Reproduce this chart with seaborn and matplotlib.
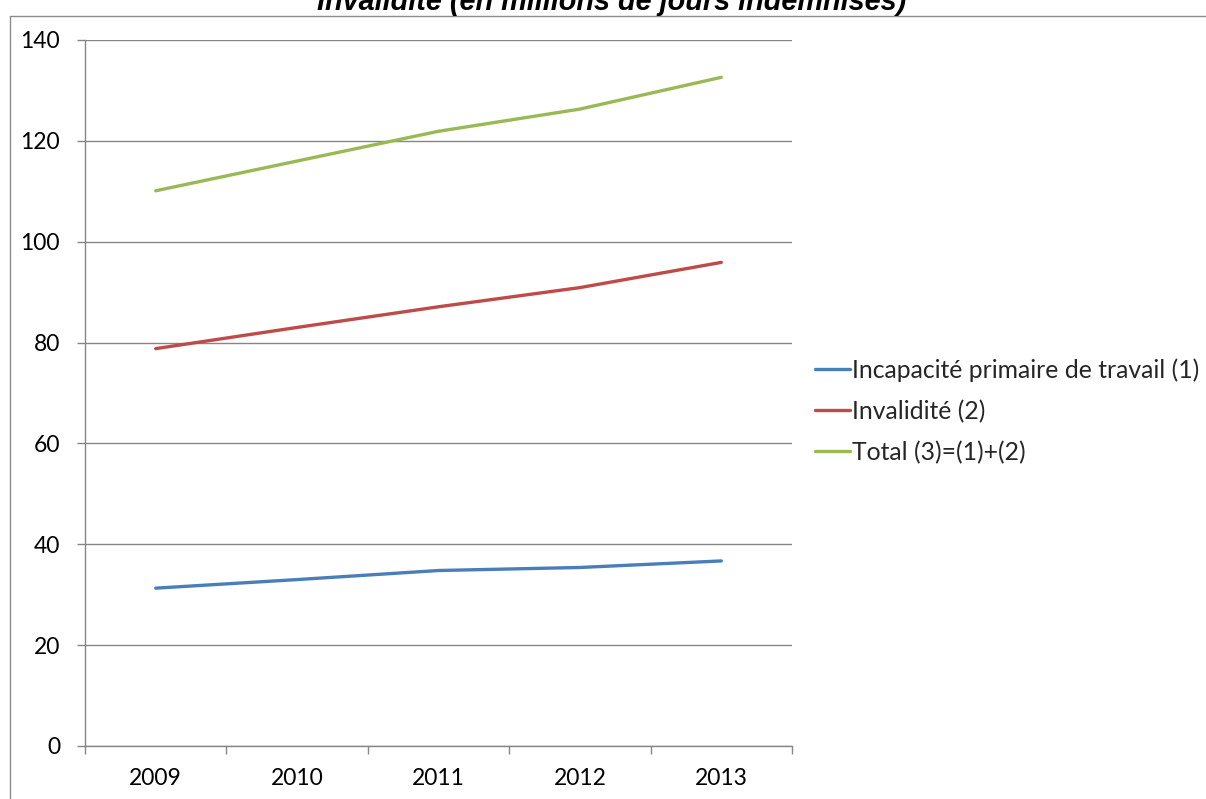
import matplotlib
matplotlib.use("Agg")
import matplotlib.pyplot as plt
from matplotlib.lines import Line2D
import seaborn as sns
import pandas as pd

years = ["2009", "2010", "2011", "2012", "2013"]
incapacite = [31.3, 33.0, 34.8, 35.4, 36.7]
invalidite = [78.8, 83.0, 87.1, 90.9, 95.9]
total = [110.1, 116.0, 121.9, 126.3, 132.6]

series_names = [
    "Incapacité primaire de travail (1)",
    "Invalidité (2)",
    "Total (3)=(1)+(2)",
]
colors = ["#4A7EBB", "#BE4B48", "#98B954"]
y_ticks = [0, 20, 40, 60, 80, 100, 120, 140]

rows = []
for name, values in zip(series_names, [incapacite, invalidite, total]):
    for i, (yr, v) in enumerate(zip(years, values)):
        rows.append({"pos": i, "year": yr, "value": v, "serie": name})
df = pd.DataFrame(rows)

sns.set_theme(style="white")
plt.rcParams["font.family"] = ["Lato", "DejaVu Sans"]

W, H = 1206, 799
fig = plt.figure(figsize=(W / 100, H / 100), dpi=100)
ax = fig.add_axes([85 / W, 1 - 746 / H, (792 - 85) / W, (746 - 40) / H])

sns.lineplot(data=df, x="pos", y="value", hue="serie", hue_order=series_names,
             palette=colors, linewidth=2.4, ax=ax, legend=True)

grid_c = "#868686"
fs = 16.5
ax.set_xlim(-0.5, 4.5)
ax.set_ylim(0, 140)
ax.set_yticks(y_ticks)
ax.set_yticklabels([str(t) for t in y_ticks], fontsize=fs, color="#000000")
ax.yaxis.grid(True, color=grid_c, linewidth=1)
ax.set_axisbelow(True)

ax.set_xticks(range(len(years)))
ax.set_xticklabels(years, fontsize=fs, color="#000000")
ax.set_xticks([i - 0.5 for i in range(len(years) + 1)], minor=True)
ax.tick_params(axis="x", which="major", length=0, pad=16)
ax.tick_params(axis="x", which="minor", length=6, width=1, color=grid_c,
               direction="out", bottom=True)
ax.tick_params(axis="y", length=6, width=1, color=grid_c, direction="out",
               left=True, pad=12)
ax.set_xlabel("")
ax.set_ylabel("")

for side in ["top", "right"]:
    ax.spines[side].set_visible(False)
for side in ["left", "bottom"]:
    ax.spines[side].set_color(grid_c)
    ax.spines[side].set_linewidth(1)

handles, labels = ax.get_legend_handles_labels()
leg = ax.legend(handles, labels, loc="center left", bbox_to_anchor=(815 / W, 1 - 411 / H),
                bbox_transform=fig.transFigure, frameon=False, fontsize=17.8,
                handlelength=1.4, handletextpad=0.08, labelspacing=0.72,
                borderaxespad=0, borderpad=0)

# chart frame
frame_c = "#8c8c8c"
fig.add_artist(Line2D([9.5 / W, 9.5 / W], [0, 1 - 15.5 / H], transform=fig.transFigure,
                      color=frame_c, linewidth=1))
fig.add_artist(Line2D([9.5 / W, 1], [1 - 15.5 / H, 1 - 15.5 / H], transform=fig.transFigure,
                      color=frame_c, linewidth=1))

fig.text(612 / W, 1 - 10 / H, "Invalidité (en millions de jours indemnisés)",
         ha="center", va="baseline", fontsize=20.8, fontstyle="italic", fontweight="bold",
         family=["Liberation Sans", "DejaVu Sans"], color="#000000")

fig.savefig("out.png", dpi=100)
